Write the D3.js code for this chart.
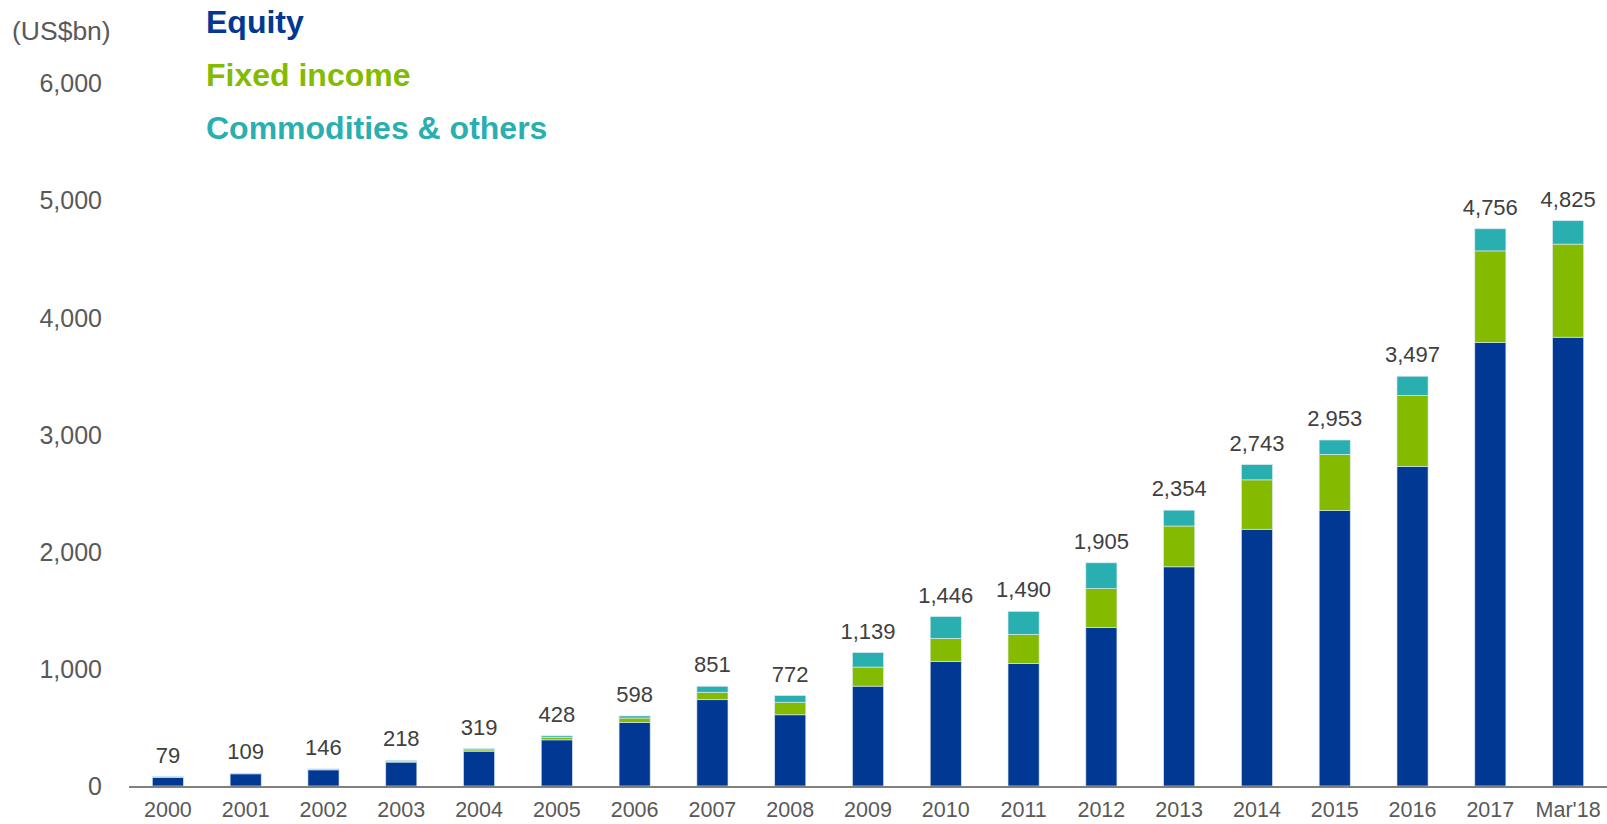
<!DOCTYPE html>
<html>
<head>
<meta charset="utf-8">
<script src="https://cdn.jsdelivr.net/npm/d3@7"></script>
<style>
  html, body { margin: 0; padding: 0; background: #fff; }
  svg { display: block; font-family: "Liberation Sans", Arial, sans-serif; }
</style>
</head>
<body>
<svg id="chart" width="1607" height="824"></svg>
<script>
const categories = ["2000","2001","2002","2003","2004","2005","2006","2007","2008","2009","2010","2011","2012","2013","2014","2015","2016","2017","Mar'18"];
const equity      = [75, 104, 138, 204, 297, 394, 543, 737, 608, 852, 1063, 1046, 1353, 1871, 2191, 2351, 2728, 3785, 3830];
const fixedIncome = [1, 2, 4, 6, 12, 21, 37, 63, 107, 163, 197, 248, 332, 348, 422, 479, 605, 782, 795];
const commodities = [3, 3, 4, 8, 10, 13, 18, 51, 57, 124, 186, 196, 220, 135, 130, 123, 164, 189, 200];
const totals      = [79, 109, 146, 218, 319, 428, 598, 851, 772, 1139, 1446, 1490, 1905, 2354, 2743, 2953, 3497, 4756, 4825];
const yTicks = [0, 1000, 2000, 3000, 4000, 5000, 6000];
const seriesNames = ["Equity", "Fixed income", "Commodities & others"];
const seriesColors = ["#003893", "#84BB00", "#29AFAF"];

const svg = d3.select("#chart");
const x = d3.scaleBand().domain(categories).range([129, 1607]).paddingInner(0.6).paddingOuter(0.3);
const y = d3.scaleLinear().domain([0, 6000]).range([786, 83]);

const rows = categories.map((c, i) => ({cat: c, eq: equity[i], fi: fixedIncome[i], co: commodities[i]}));
const stack = d3.stack().keys(["eq", "fi", "co"])(rows);

svg.append("g").selectAll("g").data(stack).join("g")
  .attr("fill", (d, i) => seriesColors[i])
  .selectAll("rect").data(d => d).join("rect")
  .attr("x", d => x(d.data.cat))
  .attr("width", x.bandwidth())
  .attr("y", d => y(d[1]))
  .attr("height", d => Math.max(0, y(d[0]) - y(d[1])))
  .attr("stroke", "rgba(220,232,245,0.8)")
  .attr("stroke-width", 0.8);

// x axis line
svg.append("line")
  .attr("x1", 129).attr("x2", 1607)
  .attr("y1", y(0) + 1).attr("y2", y(0) + 1)
  .attr("stroke", "#808080").attr("stroke-width", 2);

// x labels
const xAxis = d3.axisBottom(x).tickSize(0).tickPadding(0);
const gx = svg.append("g").attr("transform", `translate(0,${y(0)})`).call(xAxis);
gx.select(".domain").remove();
gx.selectAll("text")
  .attr("y", 31).attr("dy", 0)
  .attr("font-size", 21.5).attr("fill", "#595959")
  .attr("font-family", "Liberation Sans, Arial, sans-serif");

// y labels
const yAxis = d3.axisLeft(y).tickValues(yTicks).tickSize(0).tickPadding(0).tickFormat(d3.format(","));
const gy = svg.append("g").attr("transform", "translate(102,0)").call(yAxis);
gy.select(".domain").remove();
gy.selectAll("text")
  .attr("x", 0).attr("dy", "0.35em")
  .attr("font-size", 25).attr("fill", "#595959")
  .attr("font-family", "Liberation Sans, Arial, sans-serif");

// unit
svg.append("text").attr("x", 12).attr("y", 40)
  .attr("font-size", 26.5).attr("fill", "#595959").text("(US$bn)");

// value labels
svg.append("g").selectAll("text").data(categories).join("text")
  .attr("x", d => x(d) + x.bandwidth() / 2)
  .attr("y", (d, i) => y(totals[i]) - 14)
  .attr("text-anchor", "middle")
  .attr("font-size", 22).attr("fill", "#404040")
  .text((d, i) => d3.format(",")(totals[i]));

// legend
svg.append("g").selectAll("text").data(seriesNames).join("text")
  .attr("x", 206)
  .attr("y", (d, i) => 33 + i * 53)
  .attr("font-size", 32).attr("font-weight", "bold")
  .attr("fill", (d, i) => seriesColors[i])
  .text(d => d);
</script>
</body>
</html>
